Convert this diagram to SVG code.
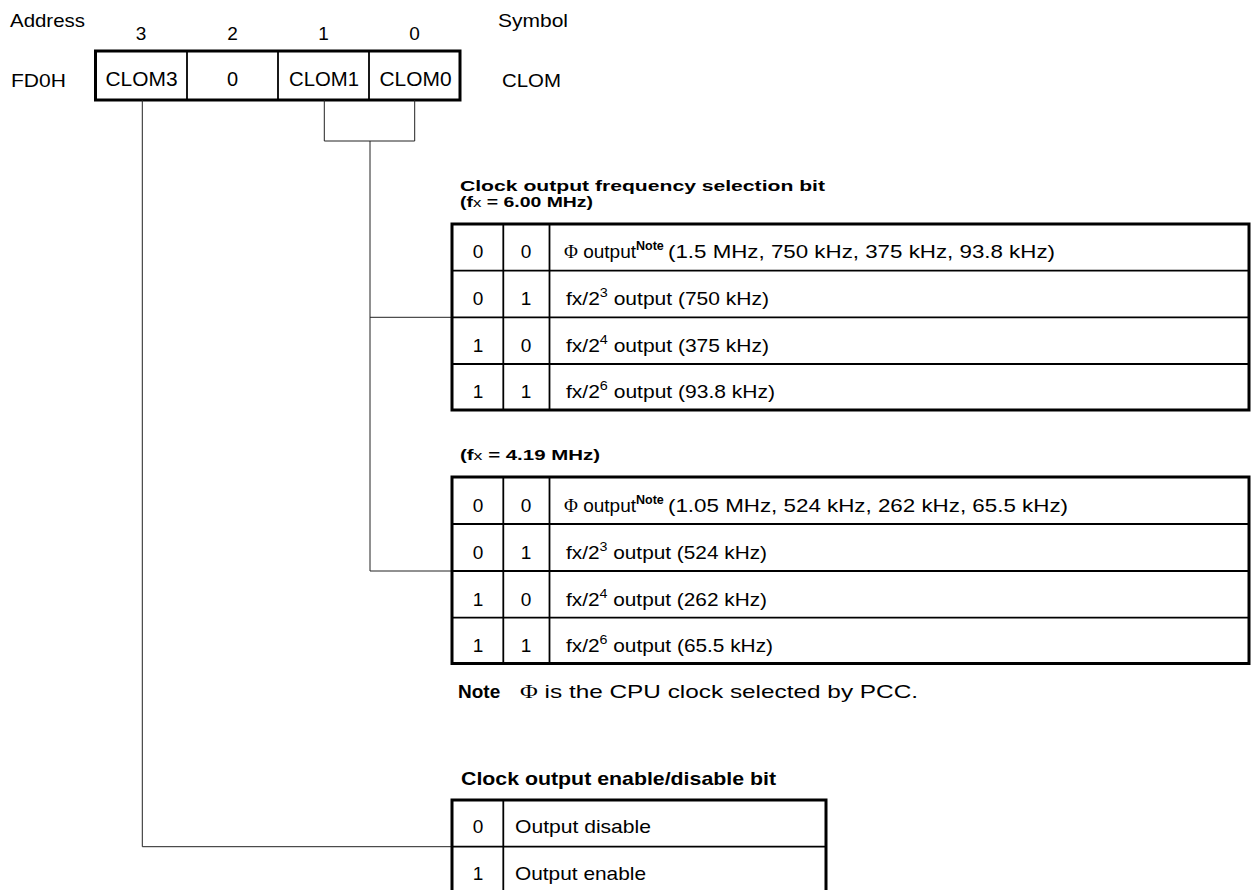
<svg xmlns="http://www.w3.org/2000/svg" width="1254" height="890" viewBox="0 0 1254 890">
<style>
text{font-family:"Liberation Sans",Arial,sans-serif;font-size:19px;fill:#000}
.b{font-weight:bold}
.c{text-anchor:middle}
.lab{font-size:18.6px}
.reg{font-size:20px}
.hd{font-size:15px;font-weight:bold}
.hd3{font-size:18.5px;font-weight:bold}
.sup{font-size:13px}
.nt{font-size:12.5px;font-weight:bold}
.xs{font-weight:normal;font-size:13px}
.phi{font-family:"Liberation Serif","Times New Roman",serif}
.thick{fill:none;stroke:#000;stroke-width:3}
.thin{fill:none;stroke:#000;stroke-width:1.8}
.conn{fill:none;stroke:#222;stroke-width:1}
</style>
<rect width="1254" height="890" fill="#fff"/>
<g id="labels">
<text class="lab" x="10" y="27" textLength="75" lengthAdjust="spacingAndGlyphs">Address</text>
<text class="lab" x="498" y="27" textLength="70" lengthAdjust="spacingAndGlyphs">Symbol</text>
<text class="lab" x="11" y="87" textLength="55" lengthAdjust="spacingAndGlyphs">FD0H</text>
<text class="lab" x="502" y="87" textLength="59" lengthAdjust="spacingAndGlyphs">CLOM</text>
<text class="c" x="141" y="40" font-size="18">3</text>
<text class="c" x="232.5" y="40" font-size="18">2</text>
<text class="c" x="323.5" y="40" font-size="18">1</text>
<text class="c" x="414.5" y="40" font-size="18">0</text>
</g>
<g id="register">
<line class="thin" x1="187" y1="51" x2="187" y2="100"/>
<line class="thin" x1="278" y1="51" x2="278" y2="100"/>
<line class="thin" x1="369" y1="51" x2="369" y2="100"/>
<rect class="thick" x="95.5" y="51" width="364.5" height="49"/>
<text class="c reg" x="141.5" y="86" textLength="72" lengthAdjust="spacingAndGlyphs">CLOM3</text>
<text class="c reg" x="232.5" y="86">0</text>
<text class="c reg" x="324" y="86" textLength="70" lengthAdjust="spacingAndGlyphs">CLOM1</text>
<text class="c reg" x="415.5" y="86" textLength="72" lengthAdjust="spacingAndGlyphs">CLOM0</text>
</g>
<g id="connectors">
<polyline class="conn" points="324.3,100 324.3,141 414.7,141 414.7,100"/>
<polyline class="conn" points="370,141 370,571 452,571"/>
<line class="conn" x1="370" y1="317.3" x2="452" y2="317.3"/>
<polyline class="conn" points="142.3,100 142.3,846.7 452,846.7"/>
</g>
<g id="freq-6mhz">
<text class="hd" x="460" y="191" textLength="365" lengthAdjust="spacingAndGlyphs">Clock output frequency selection bit</text>
<text class="hd" x="460" y="207" textLength="133" lengthAdjust="spacingAndGlyphs">(f<tspan class="xs">x</tspan> = 6.00 MHz)</text>
<line class="thin" x1="452" y1="270.7" x2="1249" y2="270.7"/>
<line class="thin" x1="452" y1="317.3" x2="1249" y2="317.3"/>
<line class="thin" x1="452" y1="364" x2="1249" y2="364"/>
<line class="thin" x1="503.3" y1="224" x2="503.3" y2="410"/>
<line class="thin" x1="549.5" y1="224" x2="549.5" y2="410"/>
<rect class="thick" x="452" y="224" width="797" height="186"/>
<text class="c" x="478" y="258">0</text><text class="c" x="526" y="258">0</text>
<text x="564" y="258"><tspan class="phi">Φ</tspan> output<tspan class="nt" dy="-8">Note</tspan></text>
<text x="668" y="258" textLength="387" lengthAdjust="spacingAndGlyphs">(1.5 MHz, 750 kHz, 375 kHz, 93.8 kHz)</text>
<text class="c" x="478" y="305">0</text><text class="c" x="526" y="305">1</text>
<text x="566" y="305" textLength="203" lengthAdjust="spacingAndGlyphs">fx/2<tspan class="sup" dy="-8">3</tspan><tspan dy="8"> output (750 kHz)</tspan></text>
<text class="c" x="478" y="352">1</text><text class="c" x="526" y="352">0</text>
<text x="566" y="352" textLength="203" lengthAdjust="spacingAndGlyphs">fx/2<tspan class="sup" dy="-8">4</tspan><tspan dy="8"> output (375 kHz)</tspan></text>
<text class="c" x="478" y="398">1</text><text class="c" x="526" y="398">1</text>
<text x="566" y="398" textLength="209" lengthAdjust="spacingAndGlyphs">fx/2<tspan class="sup" dy="-8">6</tspan><tspan dy="8"> output (93.8 kHz)</tspan></text>
</g>
<g id="freq-419mhz">
<text class="hd" x="460" y="460" textLength="140" lengthAdjust="spacingAndGlyphs">(f<tspan class="xs">x</tspan> = 4.19 MHz)</text>
<line class="thin" x1="452" y1="524" x2="1249" y2="524"/>
<line class="thin" x1="452" y1="571" x2="1249" y2="571"/>
<line class="thin" x1="452" y1="617.7" x2="1249" y2="617.7"/>
<line class="thin" x1="503.3" y1="477" x2="503.3" y2="663.5"/>
<line class="thin" x1="549.5" y1="477" x2="549.5" y2="663.5"/>
<rect class="thick" x="452" y="477" width="797" height="186.5"/>
<text class="c" x="478" y="512">0</text><text class="c" x="526" y="512">0</text>
<text x="564" y="512"><tspan class="phi">Φ</tspan> output<tspan class="nt" dy="-8">Note</tspan></text>
<text x="668" y="512" textLength="400" lengthAdjust="spacingAndGlyphs">(1.05 MHz, 524 kHz, 262 kHz, 65.5 kHz)</text>
<text class="c" x="478" y="559">0</text><text class="c" x="526" y="559">1</text>
<text x="566" y="559" textLength="201" lengthAdjust="spacingAndGlyphs">fx/2<tspan class="sup" dy="-8">3</tspan><tspan dy="8"> output (524 kHz)</tspan></text>
<text class="c" x="478" y="606">1</text><text class="c" x="526" y="606">0</text>
<text x="566" y="606" textLength="201" lengthAdjust="spacingAndGlyphs">fx/2<tspan class="sup" dy="-8">4</tspan><tspan dy="8"> output (262 kHz)</tspan></text>
<text class="c" x="478" y="652">1</text><text class="c" x="526" y="652">1</text>
<text x="566" y="652" textLength="207" lengthAdjust="spacingAndGlyphs">fx/2<tspan class="sup" dy="-8">6</tspan><tspan dy="8"> output (65.5 kHz)</tspan></text>
</g>
<g id="note">
<text class="b" x="458" y="698" font-size="18.5">Note</text>
<text x="520" y="698" textLength="398" lengthAdjust="spacingAndGlyphs"><tspan class="phi">Φ</tspan> is the CPU clock selected by PCC.</text>
</g>
<g id="enable-bit">
<text class="hd3" x="461" y="785" textLength="315" lengthAdjust="spacingAndGlyphs">Clock output enable/disable bit</text>
<line class="thin" x1="452" y1="846.7" x2="826" y2="846.7"/>
<line class="thin" x1="503.3" y1="800" x2="503.3" y2="892"/>
<polyline class="thick" points="452,892 452,800 826,800 826,892"/>
<text class="c" x="478" y="833">0</text>
<text x="515" y="833" textLength="136" lengthAdjust="spacingAndGlyphs">Output disable</text>
<text class="c" x="478" y="880">1</text>
<text x="515" y="880" textLength="131" lengthAdjust="spacingAndGlyphs">Output enable</text>
</g>
</svg>
